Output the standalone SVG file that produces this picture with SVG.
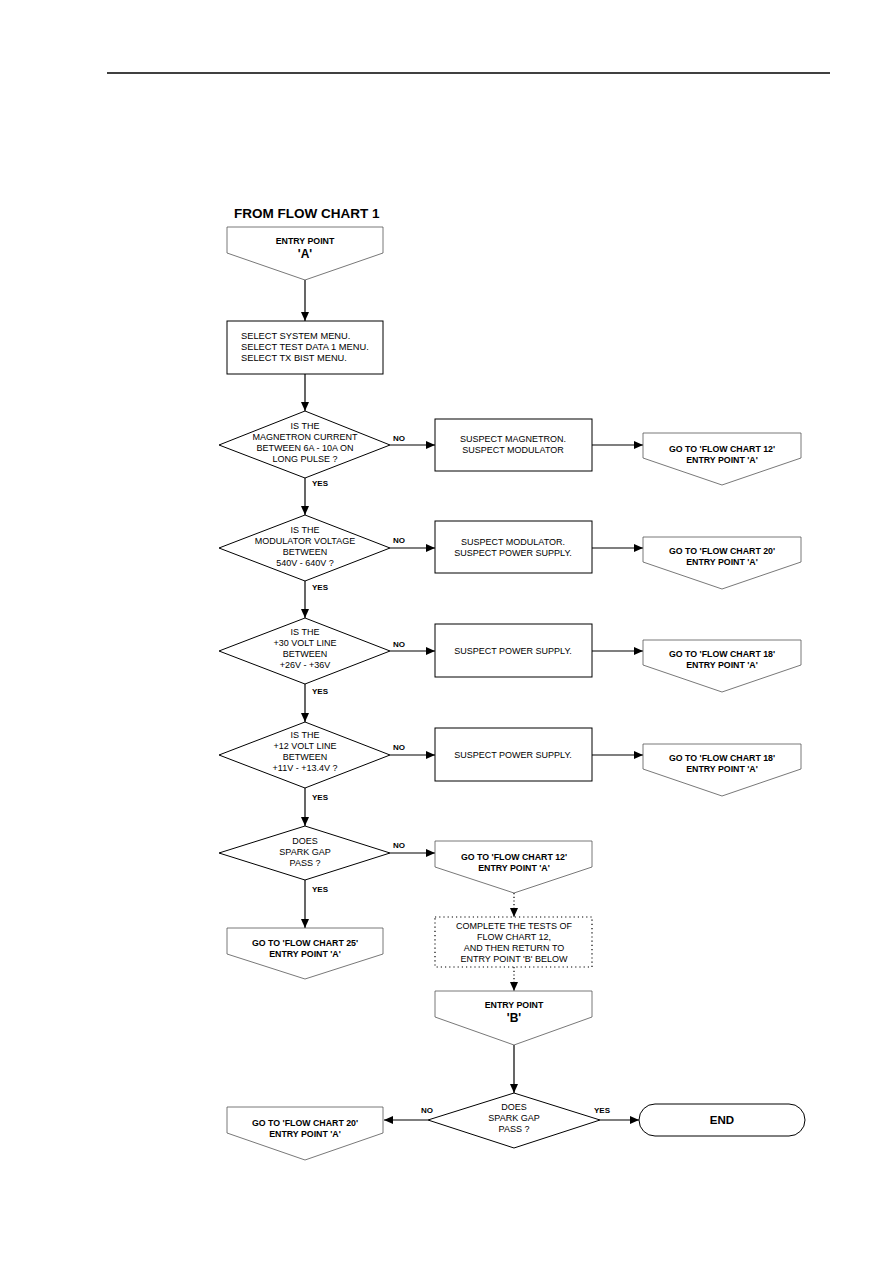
<svg xmlns="http://www.w3.org/2000/svg" width="893" height="1263" viewBox="0 0 893 1263">
<style>
text{font-family:"Liberation Sans",Arial,sans-serif;fill:#000}
.t{font-size:9px;text-anchor:middle}
.tl{font-size:9.3px}
.b{font-size:8.8px;font-weight:bold;text-anchor:middle}
.lb{font-size:8px;font-weight:bold}
.big{font-size:12px;font-weight:bold;text-anchor:middle}
.box{fill:#fff;stroke:#000;stroke-width:1}
.pent{fill:#fff;stroke:#555;stroke-width:0.8}
.dot{fill:#fff;stroke:#000;stroke-width:1.2;stroke-dasharray:1.2 3}
.c{fill:none;stroke:#000;stroke-width:1.2}
.cd{fill:none;stroke:#000;stroke-width:1.2;stroke-dasharray:1.2 2.5}
</style>
<defs>
<marker id="ah" markerWidth="10" markerHeight="8" refX="9" refY="4" orient="auto" markerUnits="userSpaceOnUse">
<path d="M0,0 L9,4 L0,8 Z" fill="#000"/>
</marker>
</defs>
<rect x="0" y="0" width="893" height="1263" fill="#fff"/>
<line x1="107" y1="73" x2="830" y2="73" stroke="#000" stroke-width="1.3"/>
<text x="234" y="218" style="font-size:13.5px;font-weight:bold">FROM FLOW CHART 1</text>

<g id="connectors">
<line class="c" x1="305" y1="280" x2="305" y2="321" marker-end="url(#ah)"/>
<line class="c" x1="305" y1="374" x2="305" y2="411" marker-end="url(#ah)"/>
<line class="c" x1="390" y1="445" x2="435" y2="445" marker-end="url(#ah)"/>
<line class="c" x1="592" y1="445" x2="643" y2="445" marker-end="url(#ah)"/>
<line class="c" x1="305" y1="478" x2="305" y2="515" marker-end="url(#ah)"/>
<line class="c" x1="390" y1="548" x2="435" y2="548" marker-end="url(#ah)"/>
<line class="c" x1="592" y1="548" x2="643" y2="548" marker-end="url(#ah)"/>
<line class="c" x1="305" y1="581" x2="305" y2="618" marker-end="url(#ah)"/>
<line class="c" x1="390" y1="651" x2="435" y2="651" marker-end="url(#ah)"/>
<line class="c" x1="592" y1="651" x2="643" y2="651" marker-end="url(#ah)"/>
<line class="c" x1="305" y1="684" x2="305" y2="722" marker-end="url(#ah)"/>
<line class="c" x1="390" y1="755" x2="435" y2="755" marker-end="url(#ah)"/>
<line class="c" x1="592" y1="755" x2="643" y2="755" marker-end="url(#ah)"/>
<line class="c" x1="305" y1="788" x2="305" y2="826" marker-end="url(#ah)"/>
<line class="c" x1="390" y1="853" x2="435" y2="853" marker-end="url(#ah)"/>
<line class="c" x1="305" y1="880" x2="305" y2="928" marker-end="url(#ah)"/>
<line class="cd" x1="514" y1="893" x2="514" y2="917" marker-end="url(#ah)"/>
<line class="cd" x1="514" y1="967" x2="514" y2="991" marker-end="url(#ah)"/>
<line class="c" x1="514" y1="1045" x2="514" y2="1093" marker-end="url(#ah)"/>
<line class="c" x1="428" y1="1120" x2="384" y2="1120" marker-end="url(#ah)"/>
<line class="c" x1="600" y1="1120" x2="639" y2="1120" marker-end="url(#ah)"/>
<text class="lb" x="393" y="441">NO</text>
<text class="lb" x="312" y="486">YES</text>
<text class="lb" x="393" y="543">NO</text>
<text class="lb" x="312" y="590">YES</text>
<text class="lb" x="393" y="647">NO</text>
<text class="lb" x="312" y="694">YES</text>
<text class="lb" x="393" y="750">NO</text>
<text class="lb" x="312" y="800">YES</text>
<text class="lb" x="393" y="848">NO</text>
<text class="lb" x="312" y="892">YES</text>
<text class="lb" x="421" y="1113">NO</text>
<text class="lb" x="594" y="1113">YES</text>
</g>

<g id="entryA">
<path class="pent" d="M227,227 H383 V253 L305,280 L227,253 Z"/>
<text class="b" x="305" y="244">ENTRY POINT</text>
<text class="big" x="305" y="258">'A'</text>
</g>

<g id="select">
<rect class="box" x="227" y="321" width="156" height="53"/>
<text class="tl" x="241" y="339">SELECT SYSTEM MENU.</text>
<text class="tl" x="241" y="350">SELECT TEST DATA 1 MENU.</text>
<text class="tl" x="241" y="361">SELECT TX BIST MENU.</text>
</g>

<g id="d1">
<path class="box" d="M305,411 L390,445 L305,478 L219,445 Z"/>
<text class="t" x="305" y="429">IS THE</text>
<text class="t" x="305" y="440">MAGNETRON CURRENT</text>
<text class="t" x="305" y="451">BETWEEN 6A - 10A ON</text>
<text class="t" x="305" y="462">LONG PULSE ?</text>
</g>
<g id="b1">
<rect class="box" x="435" y="419" width="157" height="52"/>
<text class="t" x="513" y="442">SUSPECT MAGNETRON.</text>
<text class="t" x="513" y="453">SUSPECT MODULATOR</text>
</g>
<g id="g1">
<path class="pent" d="M643,433 H801 V458 L722,485 L643,458 Z"/>
<text class="b" x="722" y="452">GO TO 'FLOW CHART 12'</text>
<text class="b" x="722" y="463">ENTRY POINT 'A'</text>
</g>

<g id="d2">
<path class="box" d="M305,515 L390,548 L305,581 L219,548 Z"/>
<text class="t" x="305" y="533">IS THE</text>
<text class="t" x="305" y="544">MODULATOR VOLTAGE</text>
<text class="t" x="305" y="555">BETWEEN</text>
<text class="t" x="305" y="566">540V - 640V ?</text>
</g>
<g id="b2">
<rect class="box" x="435" y="521" width="157" height="52"/>
<text class="t" x="513" y="545">SUSPECT MODULATOR.</text>
<text class="t" x="513" y="556">SUSPECT POWER SUPPLY.</text>
</g>
<g id="g2">
<path class="pent" d="M643,537 H801 V562 L722,589 L643,562 Z"/>
<text class="b" x="722" y="554">GO TO 'FLOW CHART 20'</text>
<text class="b" x="722" y="565">ENTRY POINT 'A'</text>
</g>

<g id="d3">
<path class="box" d="M305,618 L390,651 L305,684 L219,651 Z"/>
<text class="t" x="305" y="635">IS THE</text>
<text class="t" x="305" y="646">+30 VOLT LINE</text>
<text class="t" x="305" y="657">BETWEEN</text>
<text class="t" x="305" y="668">+26V - +36V</text>
</g>
<g id="b3">
<rect class="box" x="435" y="624" width="157" height="53"/>
<text class="t" x="513" y="654">SUSPECT POWER SUPPLY.</text>
</g>
<g id="g3">
<path class="pent" d="M643,640 H801 V665 L722,692 L643,665 Z"/>
<text class="b" x="722" y="657">GO TO 'FLOW CHART 18'</text>
<text class="b" x="722" y="668">ENTRY POINT 'A'</text>
</g>

<g id="d4">
<path class="box" d="M305,722 L390,755 L305,788 L219,755 Z"/>
<text class="t" x="305" y="738">IS THE</text>
<text class="t" x="305" y="749">+12 VOLT LINE</text>
<text class="t" x="305" y="760">BETWEEN</text>
<text class="t" x="305" y="771">+11V - +13.4V ?</text>
</g>
<g id="b4">
<rect class="box" x="435" y="728" width="157" height="53"/>
<text class="t" x="513" y="758">SUSPECT POWER SUPPLY.</text>
</g>
<g id="g4">
<path class="pent" d="M643,744 H801 V769 L722,796 L643,769 Z"/>
<text class="b" x="722" y="761">GO TO 'FLOW CHART 18'</text>
<text class="b" x="722" y="772">ENTRY POINT 'A'</text>
</g>

<g id="d5">
<path class="box" d="M305,826 L390,853 L305,880 L219,853 Z"/>
<text class="t" x="305" y="844">DOES</text>
<text class="t" x="305" y="855">SPARK GAP</text>
<text class="t" x="305" y="866">PASS ?</text>
</g>
<g id="g12">
<path class="pent" d="M435,841 H592 V867 L514,893 L435,867 Z"/>
<text class="b" x="514" y="860">GO TO 'FLOW CHART 12'</text>
<text class="b" x="514" y="871">ENTRY POINT 'A'</text>
</g>
<g id="g25">
<path class="pent" d="M227,928 H383 V954 L305,979 L227,954 Z"/>
<text class="b" x="305" y="946">GO TO 'FLOW CHART 25'</text>
<text class="b" x="305" y="957">ENTRY POINT 'A'</text>
</g>
<g id="complete">
<rect class="dot" x="435" y="917" width="157" height="50"/>
<text class="t" x="514" y="929">COMPLETE THE TESTS OF</text>
<text class="t" x="514" y="940">FLOW CHART 12,</text>
<text class="t" x="514" y="951">AND THEN RETURN TO</text>
<text class="t" x="514" y="962">ENTRY POINT 'B' BELOW</text>
</g>
<g id="entryB">
<path class="pent" d="M435,991 H592 V1017 L514,1045 L435,1017 Z"/>
<text class="b" x="514" y="1008">ENTRY POINT</text>
<text class="big" x="514" y="1022">'B'</text>
</g>
<g id="d6">
<path class="box" d="M514,1093 L600,1120 L514,1148 L428,1120 Z"/>
<text class="t" x="514" y="1110">DOES</text>
<text class="t" x="514" y="1121">SPARK GAP</text>
<text class="t" x="514" y="1132">PASS ?</text>
</g>
<g id="g20b">
<path class="pent" d="M227,1107 H383 V1133 L305,1160 L227,1133 Z"/>
<text class="b" x="305" y="1126">GO TO 'FLOW CHART 20'</text>
<text class="b" x="305" y="1137">ENTRY POINT 'A'</text>
</g>
<g id="end">
<rect class="box" x="639" y="1104" width="166" height="32" rx="16" ry="16"/>
<text class="big" x="722" y="1124" style="font-size:11.5px">END</text>
</g>
</svg>
